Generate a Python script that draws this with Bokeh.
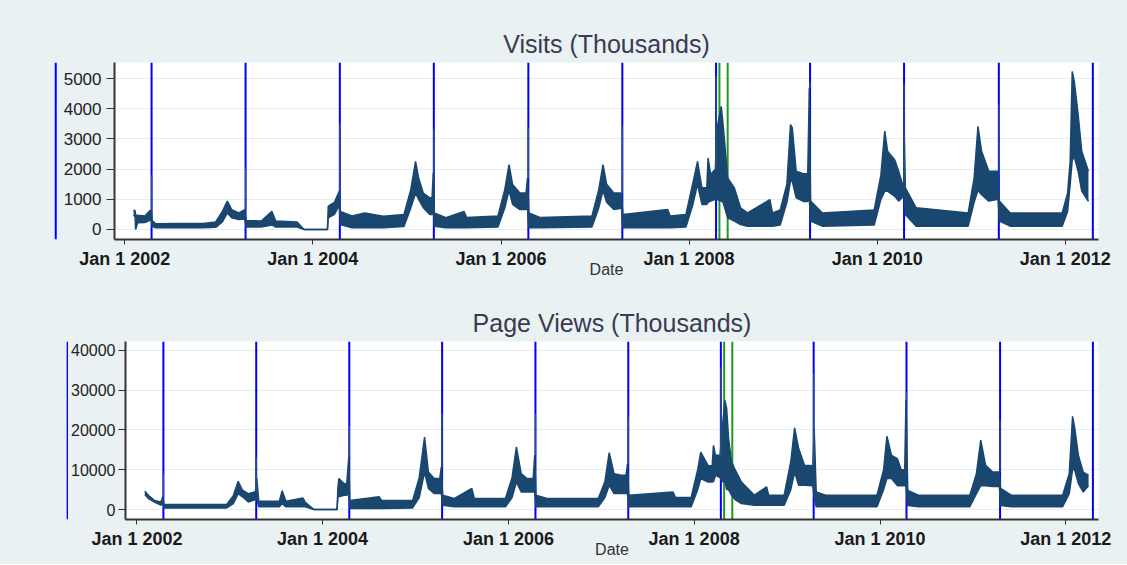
import pandas as pd
from bokeh.plotting import figure
from bokeh.layouts import column, row
from bokeh.models import Span, Range1d, FixedTicker
from bokeh.embed import file_html
from bokeh.resources import INLINE

# ---------------- data ----------------
visit_dates = ["2002-02-04", "2002-02-10", "2002-02-12", "2002-02-20", "2002-03-20", "2002-04-08", "2002-04-14",
               "2002-04-17", "2002-05-01", "2002-08-01", "2002-11-01", "2002-12-20", "2003-01-15", "2003-02-03",
               "2003-02-20", "2003-03-20", "2003-04-12", "2003-04-17", "2003-06-15", "2003-07-26", "2003-08-10",
               "2003-11-01", "2003-11-28", "2004-02-27", "2004-03-01", "2004-03-25", "2004-04-13", "2004-04-17",
               "2004-06-01", "2004-07-20", "2004-10-01", "2004-12-20", "2005-01-15", "2005-02-03", "2005-02-15",
               "2005-03-05", "2005-03-30", "2005-04-08", "2005-04-13", "2005-04-17", "2005-06-01", "2005-08-10", "2005-08-20",
               "2005-12-20", "2006-01-15", "2006-02-01", "2006-02-15", "2006-03-15", "2006-04-08", "2006-04-14", "2006-04-19",
               "2006-06-01", "2006-12-20", "2007-01-15", "2007-02-01", "2007-02-15", "2007-03-15", "2007-04-14",
               "2007-04-19", "2007-10-10", "2007-10-20", "2007-12-20", "2008-01-15", "2008-02-03", "2008-02-20",
               "2008-03-10", "2008-03-15", "2008-03-25", "2008-04-12", "2008-04-18", "2008-05-05", "2008-05-12", "2008-05-30",
               "2008-06-25", "2008-07-19", "2008-08-15", "2008-10-10", "2008-11-10", "2008-11-20", "2008-12-20",
               "2009-01-15", "2009-01-29", "2009-02-05", "2009-02-20", "2009-03-20", "2009-04-06", "2009-04-12", "2009-04-17",
               "2009-06-01", "2009-12-20", "2010-01-15", "2010-01-30", "2010-02-10", "2010-03-10", "2010-03-25",
               "2010-04-13", "2010-04-16", "2010-04-20", "2010-06-01", "2010-12-20", "2011-01-12", "2011-01-27",
               "2011-02-10", "2011-03-10", "2011-04-15", "2011-04-20", "2011-06-01", "2011-12-20", "2012-01-10",
               "2012-01-20", "2012-01-28", "2012-02-05", "2012-02-20", "2012-03-05", "2012-03-31"]
visit_lo = [480, 420, 0, 220, 230, 300, 320,
            100, 60, 60, 60, 70, 250, 550,
            390, 330, 350, 80, 80, 150, 80,
            80, 0, 0, 390, 500, 800, 165,
            60, 60, 55, 100, 700, 1200, 1000,
            720, 500, 500, 600, 110, 55, 55, 55,
            80, 700, 1300, 830, 660, 660, 700, 55,
            55, 80, 700, 1300, 900, 660, 700,
            55, 60, 60, 80, 800, 1500, 830,
            830, 900, 940, 1000, 1000, 940, 900, 390,
            280, 165, 110, 110, 110, 110, 150,
            900, 1600, 1600, 1050, 930, 930, 1000, 280,
            110, 150, 1000, 1270, 1270, 1100, 940,
            1100, 1100, 500, 110, 110, 900, 1300,
            1150, 940, 1000, 280, 110, 110, 600,
            1500, 2300, 2400, 1930, 1270, 930]
visit_hi = [650, 620, 480, 470, 450, 620, 650,
            300, 190, 200, 200, 250, 600, 940,
            660, 550, 660, 300, 280, 600, 280,
            250, 0, 0, 770, 900, 1270, 600,
            450, 550, 440, 500, 1300, 2260, 1710,
            1210, 1050, 1050, 1880, 550, 390, 600, 400,
            450, 1300, 2150, 1490, 1210, 1210, 1710, 550,
            400, 450, 1300, 2150, 1500, 1210, 1210,
            500, 660, 450, 500, 1500, 2260, 1380,
            1380, 2370, 1820, 2000, 3310, 4080, 3500, 1710,
            1380, 720, 550, 830, 990, 550, 650,
            1500, 3480, 3370, 1930, 1850, 1850, 4690, 940,
            550, 650, 1800, 3260, 2590, 2300, 1930,
            1380, 3040, 1380, 720, 550, 1700, 3420,
            2590, 1930, 1930, 940, 550, 550, 1200,
            2260, 5240, 4910, 3800, 2590, 1930]

pv_dates = ["2002-02-01", "2002-02-15", "2002-03-10", "2002-04-05", "2002-04-13", "2002-04-17", "2002-08-01",
            "2002-12-20", "2003-01-15", "2003-02-03", "2003-02-20", "2003-03-15", "2003-04-12", "2003-04-17",
            "2003-04-25", "2003-07-15", "2003-07-26", "2003-08-10", "2003-10-16", "2003-10-25", "2003-11-28",
            "2004-02-27", "2004-03-01", "2004-03-05", "2004-03-25", "2004-04-05", "2004-04-13", "2004-04-17", "2004-08-10",
            "2004-08-20", "2004-12-20", "2005-01-15", "2005-02-05", "2005-02-20", "2005-03-15", "2005-04-06", "2005-04-12",
            "2005-04-17", "2005-06-01", "2005-08-10", "2005-08-20", "2005-12-20", "2006-01-15", "2006-02-01",
            "2006-02-20", "2006-03-15", "2006-04-08", "2006-04-14", "2006-04-19", "2006-06-01", "2006-12-20", "2007-01-15",
            "2007-02-01", "2007-02-20", "2007-03-20", "2007-04-08", "2007-04-14", "2007-04-19", "2007-10-10", "2007-10-20",
            "2007-12-20", "2008-01-15", "2008-01-27", "2008-02-25", "2008-03-12", "2008-03-17", "2008-03-25", "2008-04-12",
            "2008-04-20", "2008-05-01", "2008-05-08", "2008-05-15", "2008-05-27", "2008-06-10", "2008-07-05",
            "2008-08-25", "2008-10-12", "2008-10-20", "2008-12-20", "2009-01-15", "2009-01-30", "2009-02-15",
            "2009-03-10", "2009-04-12", "2009-04-17", "2009-04-25", "2009-06-01", "2009-12-20", "2010-01-15",
            "2010-01-28", "2010-02-15", "2010-03-10", "2010-03-25", "2010-04-08", "2010-04-13", "2010-04-20", "2010-06-01",
            "2010-12-20", "2011-01-15", "2011-02-01", "2011-02-20", "2011-03-20", "2011-04-15", "2011-04-20",
            "2011-06-01", "2011-12-20", "2012-01-15", "2012-01-28", "2012-02-05", "2012-02-20", "2012-03-10",
            "2012-03-31"]
pv_lo = [3800, 2750, 1900, 1100, 1500, 400, 400,
         400, 1500, 4000, 3200, 1900, 2500, 3000,
         670, 670, 1500, 670, 670, 670, 0,
         0, 3200, 3200, 3600, 3600, 4000, 250, 250,
         250, 400, 3000, 9400, 5300, 4000, 4000, 4000,
         1100, 670, 670, 670, 670, 3000, 6900,
         4400, 4400, 4400, 4400, 670, 670, 670, 3000,
         6100, 4000, 4000, 4000, 4000, 670, 670, 670,
         670, 5000, 7800, 6900, 6900, 7000, 8600, 8000,
         7000, 7000, 5000, 5000, 3600, 2500, 1500,
         1100, 1100, 1100, 1100, 5000, 9400, 6100,
         6100, 6000, 3000, 700, 700, 700, 5000,
         7800, 7800, 6000, 6000, 6000, 6000, 1000, 700,
         700, 4000, 6000, 6000, 5800, 5800, 1000,
         700, 700, 4000, 10000, 10000, 6500, 4400,
         6000]
pv_hi = [4600, 3600, 2300, 1900, 3200, 1250, 1250,
         1250, 3500, 7100, 4850, 4000, 4500, 7900,
         2100, 2100, 4700, 2100, 2900, 1800, 0,
         0, 5300, 7800, 6500, 6500, 13200, 2300, 3200,
         2300, 2300, 8000, 18200, 9400, 7800, 7800, 10700,
         3600, 2750, 5300, 2750, 2750, 8000, 15700,
         9000, 7800, 7800, 13600, 3600, 2750, 2750, 7000,
         14300, 9000, 8600, 8600, 11500, 3600, 4400, 3000,
         3000, 10000, 14400, 11000, 11000, 16100, 13600, 13600,
         20000, 27400, 25300, 18000, 12000, 10000, 6900,
         3600, 5700, 3600, 3600, 12000, 20500, 15300,
         11100, 11000, 20300, 4400, 3600, 3600, 10000,
         18400, 13600, 12800, 10000, 10000, 27400, 4800, 3600,
         3600, 9000, 17400, 11100, 9400, 9400, 5300,
         3600, 3600, 9000, 23400, 20700, 13600, 9400,
         8600]

# filing deadlines (blue) and the two 2008 marks (green)
tax_days = ["2001-04-16", "2002-04-15", "2003-04-15", "2004-04-15", "2005-04-15", "2006-04-17",
            "2007-04-17", "2008-04-15", "2009-04-15", "2010-04-15", "2011-04-18", "2012-04-17"]
green_days = ["2008-04-28", "2008-05-30"]
# one-day peaks on the deadlines 2002-2011
spike_days = tax_days[1:11]
visit_spike = [1790, 2060, 3510, 3330, 3370, 3450, 5080, 4890, 4820, 4140]
pv_spike = [9000, 13200, 21000, 24000, 24000, 23200, 35700, 34100, 29500, 22400]

x_ticks = ["2002-01-01", "2004-01-01", "2006-01-01", "2008-01-01", "2010-01-01", "2012-01-01"]
x_tick_labels = ["Jan 1 2002", "Jan 1 2004", "Jan 1 2006", "Jan 1 2008", "Jan 1 2010", "Jan 1 2012"]
visit_yticks = [0, 1000, 2000, 3000, 4000, 5000]
pv_yticks = [0, 10000, 20000, 30000, 40000]

for a, b, c in [(visit_dates, visit_lo, visit_hi), (pv_dates, pv_lo, pv_hi)]:
    if not (len(a) == len(b) == len(c)):
        raise ValueError(f"length mismatch {len(a)} {len(b)} {len(c)}")

# ---------------- styling ----------------
BG = "#eaf1f3"
NAVY = "#1a476f"
BLUE = "#0000ff"
GREEN = "#1f9a1f"
FONT = "Liberation Sans"
W = 1127


def ms(s):
    return pd.Timestamp(s).value / 1e6


def make_panel(title, dates, lo, hi, spikes, yticks, ylo, yhi, x0, x1,
               height, strip_w, frame_left, frame_right, bt, bb, ysize, ytick_out, ystand):
    # narrow strip to the left of the axis labels that carries the 2001 deadline line
    frame_w = frame_right - frame_left
    ppm = frame_w / (ms(x1) - ms(x0))
    s = figure(width=strip_w, height=height,
               x_range=Range1d(ms(x0) - frame_left / ppm, ms(x0) - (frame_left - strip_w) / ppm),
               y_range=Range1d(ylo, yhi), x_axis_location=None, y_axis_location=None,
               toolbar_location=None, output_backend="svg",
               min_border_left=0, min_border_right=0, min_border_top=bt, min_border_bottom=bb)
    s.frame_align = False
    s.background_fill_color = BG
    s.border_fill_color = BG
    s.outline_line_color = None
    s.grid.visible = False
    s.add_layout(Span(location=ms(tax_days[0]), dimension="height", line_color=BLUE,
                      line_width=2, level="underlay"))

    p = figure(width=W - strip_w, height=height, x_axis_type="datetime",
               x_range=Range1d(ms(x0), ms(x1)),
               y_range=Range1d(ylo, yhi), output_backend="svg", toolbar_location=None,
               title=title, min_border_left=frame_left - strip_w, min_border_right=W - frame_right,
               min_border_top=bt, min_border_bottom=bb)
    p.frame_align = False
    p.background_fill_color = "white"
    p.border_fill_color = BG
    p.outline_line_color = None
    p.title.align = "center"
    p.title.text_font = FONT
    p.title.text_font_size = "25px"
    p.title.text_font_style = "normal"
    p.title.text_color = "#3a3a50"

    for d in tax_days:
        p.add_layout(Span(location=ms(d), dimension="height", line_color=BLUE,
                          line_width=2, level="underlay"))
    for d in green_days:
        p.add_layout(Span(location=ms(d), dimension="height", line_color=GREEN,
                          line_width=2, level="underlay"))

    x = pd.to_datetime(dates)
    p.varea(x=x, y1=lo, y2=hi, fill_color=NAVY)
    p.line(x, hi, line_color=NAVY, line_width=1.5)
    p.line(x, lo, line_color=NAVY, line_width=1.5)

    xs = pd.to_datetime(spike_days)
    base = [float(pd.Series(hi, index=x).asof(t)) for t in xs]
    p.segment(x0=xs, y0=base, x1=xs, y1=spikes, line_color="#2b5578", line_width=1.3)

    p.xgrid.visible = False
    p.ygrid.ticker = FixedTicker(ticks=yticks)
    p.ygrid.grid_line_color = "#e4edf0"
    p.ygrid.grid_line_width = 1.2

    ya = p.yaxis[0]
    ya.ticker = FixedTicker(ticks=yticks)
    ya.major_label_text_font = FONT
    ya.major_label_text_font_size = ysize
    ya.major_label_text_color = "#222222"
    ya.axis_line_color = "#333333"
    ya.axis_line_width = 2
    ya.major_tick_line_color = "#333333"
    ya.major_tick_out = ytick_out
    ya.major_tick_in = 0
    ya.minor_tick_line_color = None
    ya.major_label_standoff = ystand

    xa = p.xaxis[0]
    tk = [ms(t) for t in x_ticks]
    xa.ticker = FixedTicker(ticks=tk)
    xa.major_label_overrides = {t: lab for t, lab in zip(tk, x_tick_labels)}
    xa.major_label_text_font = FONT
    xa.major_label_text_font_size = "18px"
    xa.major_label_text_font_style = "bold"
    xa.major_label_text_color = "#1a1a1a"
    xa.axis_line_color = "#333333"
    xa.axis_line_width = 2
    xa.major_tick_line_color = "#333333"
    xa.major_tick_out = 5
    xa.major_tick_in = 0
    xa.minor_tick_line_color = None
    xa.major_label_standoff = 4
    xa.axis_label = "Date"
    xa.axis_label_text_font = FONT
    xa.axis_label_text_font_size = "16px"
    xa.axis_label_text_font_style = "normal"
    xa.axis_label_text_color = "#333333"
    xa.axis_label_standoff = -11
    r = row(s, p, spacing=0)
    r.styles = {"background-color": BG}
    return r


r1 = make_panel("Visits (Thousands)", visit_dates, visit_lo, visit_hi, visit_spike,
                visit_yticks, -332, 5535, "2001-11-22", "2012-05-09",
                283, 60, 112, 1098, 62, 44, "17px", 8, 5)
r2 = make_panel("Page Views (Thousands)", pv_dates, pv_lo, pv_hi, pv_spike,
                pv_yticks, -2500, 42180, "2001-11-17", "2012-05-09",
                281, 68, 122, 1098, 58, 45, "16px", 7, 3)

layout = column(r1, r2, spacing=0)
layout.styles = {"background-color": BG}
open("out.html", "w").write(file_html(layout, INLINE))
